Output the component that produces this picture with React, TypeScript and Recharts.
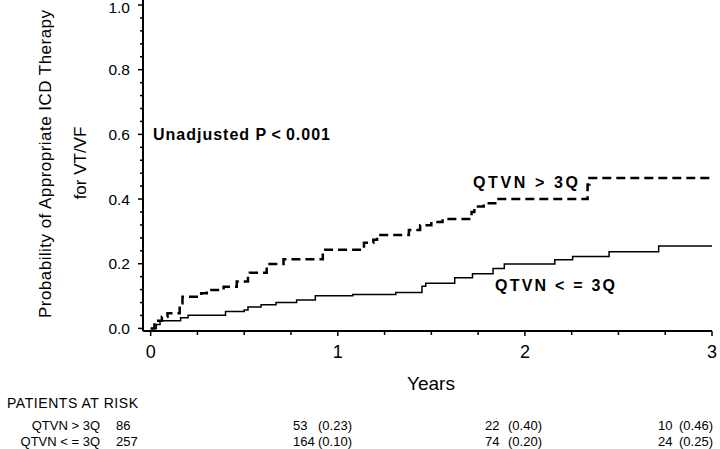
import { LineChart, Line, XAxis, YAxis } from "recharts";

// Kaplan-Meier step points (time in years, cumulative probability)
const highTimes = [0, 0.02, 0.04, 0.06, 0.09, 0.155, 0.17, 0.27, 0.3, 0.39, 0.46, 0.52, 0.53, 0.62, 0.71, 0.92, 1.14, 1.19, 1.21, 1.38, 1.44, 1.5, 1.56, 1.715, 1.73, 1.78, 1.85, 2.335, 2.345, 3.0];
const highProbs = [0, 0.012, 0.024, 0.036, 0.047, 0.078, 0.098, 0.109, 0.119, 0.129, 0.145, 0.165, 0.172, 0.199, 0.214, 0.243, 0.265, 0.274, 0.289, 0.304, 0.319, 0.329, 0.338, 0.36, 0.377, 0.387, 0.4, 0.445, 0.465, 0.465];

const lowTimes = [0, 0.03, 0.05, 0.16, 0.2, 0.4, 0.5, 0.52, 0.59, 0.67, 0.78, 0.88, 1.08, 1.31, 1.45, 1.47, 1.625, 1.72, 1.83, 1.89, 2.16, 2.255, 2.45, 2.715, 3.0];
const lowProbs = [0, 0.012, 0.024, 0.033, 0.041, 0.052, 0.057, 0.066, 0.073, 0.08, 0.088, 0.101, 0.105, 0.111, 0.13, 0.14, 0.157, 0.169, 0.185, 0.199, 0.212, 0.222, 0.237, 0.255, 0.255];

const xTicks = [0, 0.25, 0.5, 0.75, 1, 1.25, 1.5, 1.75, 2, 2.25, 2.5, 2.75, 3];
const yTicks = [0, 0.04, 0.08, 0.12, 0.16, 0.2, 0.24, 0.28, 0.32, 0.36, 0.4, 0.44, 0.48, 0.52, 0.56, 0.6, 0.64, 0.68, 0.72, 0.76, 0.8, 0.84, 0.88, 0.92, 0.96, 1.0];

// patients at risk table
const riskGroups = ["QTVN  >  3Q", "QTVN  < =  3Q"];
const riskHigh = [86, 53, 22, 10];
const riskHighProb = ["", "(0.23)", "(0.40)", "(0.46)"];
const riskLow = [257, 164, 74, 24];
const riskLowProb = ["", "(0.10)", "(0.20)", "(0.25)"];

const highData = highTimes.map((t, i) => ({ t, p: highProbs[i] }));
const lowData = lowTimes.map((t, i) => ({ t, p: lowProbs[i] }));

const FONT = "'Liberation Sans', Arial, sans-serif";

const isMajor = (v: number, step: number) => Math.abs(v / step - Math.round(v / step)) < 1e-6;

function XTick(props: any) {
    const { x, y, payload } = props;
    const major = isMajor(payload.value, 1);
    return (
        <g>
            <line x1={x} x2={x} y1={y} y2={y + (major ? 5 : 4)} stroke="#000" strokeWidth={1.5} />
            {major && (
                <text x={x} y={y + 27} textAnchor="middle" fontSize={18} fontFamily={FONT} fill="#000">
                    {payload.value}
                </text>
            )}
        </g>
    );
}

function YTick(props: any) {
    const { x, y, payload } = props;
    const major = isMajor(payload.value, 0.2);
    return (
        <g>
            <line x1={x} x2={x - (major ? 5 : 3)} y1={y} y2={y} stroke="#000" strokeWidth={1.5} />
            {major && (
                <text x={x - 13} y={Math.max(y + 5.5, 13)} textAnchor="end" fontSize={15.5} fontFamily={FONT} fill="#000">
                    {payload.value.toFixed(1)}
                </text>
            )}
        </g>
    );
}

export default function App() {
    const countX = [116, 293, 485, 658];
    const probX = [0, 318, 508, 679];
    return (
        <div style={{ position: "absolute", left: 0, top: 0, width: 720, height: 449, background: "#fff" }}>
            <LineChart width={720} height={449} margin={{ top: 0, right: 8, bottom: 88, left: 0 }}>
                <XAxis
                    type="number"
                    dataKey="t"
                    domain={[-0.041, 3]}
                    ticks={xTicks}
                    tick={<XTick />}
                    tickLine={false}
                    tickSize={0}
                    tickMargin={0}
                    height={30}
                    axisLine={{ stroke: "#000", strokeWidth: 2 }}
                    interval={0}
                />
                <YAxis
                    type="number"
                    dataKey="p"
                    domain={[-0.008, 1.0155]}
                    ticks={yTicks}
                    tick={<YTick />}
                    tickLine={false}
                    tickSize={0}
                    tickMargin={0}
                    width={143}
                    axisLine={{ stroke: "#000", strokeWidth: 2 }}
                    interval={0}
                />
                <Line
                    data={lowData}
                    dataKey="p"
                    type="stepAfter"
                    stroke="#000"
                    strokeWidth={1.5}
                    dot={false}
                    isAnimationActive={false}
                />
                <Line
                    data={highData}
                    dataKey="p"
                    type="stepAfter"
                    stroke="#000"
                    strokeWidth={2.5}
                    strokeDasharray="9 5"
                    dot={false}
                    isAnimationActive={false}
                />
            </LineChart>
            <svg
                width={720}
                height={449}
                style={{ position: "absolute", left: 0, top: 0, pointerEvents: "none" }}
                fontFamily={FONT}
            >
                <text transform="translate(51,164) rotate(-90)" textAnchor="middle" fontSize={17} textLength={308} lengthAdjust="spacing">
                    Probability of Appropriate ICD Therapy
                </text>
                <text transform="translate(86,163) rotate(-90)" textAnchor="middle" fontSize={17}>
                    for VT/VF
                </text>
                <text x={153} y={140} fontSize={16} fontWeight="bold" textLength={177} lengthAdjust="spacing">
                    Unadjusted P{"\u2009"}&lt;{"\u2009"}0.001
                </text>
                <text x={473} y={188} fontSize={16} fontWeight="bold" textLength={105} lengthAdjust="spacing">
                    QTVN &gt; 3Q
                </text>
                <text x={495} y={291} fontSize={16} fontWeight="bold" textLength={120} lengthAdjust="spacing">
                    QTVN &lt; = 3Q
                </text>
                <text x={431} y={390} textAnchor="middle" fontSize={19}>
                    Years
                </text>
                <text x={7} y={408} fontSize={14} textLength={131} lengthAdjust="spacing">
                    PATIENTS AT RISK
                </text>
                {[riskHigh, riskLow].map((row, r) => {
                    const probs = r === 0 ? riskHighProb : riskLowProb;
                    const y = r === 0 ? 430 : 446;
                    return (
                        <g key={r} fontSize={13} style={{ whiteSpace: "pre" }}>
                            <text x={100} y={y} textAnchor="end">
                                {riskGroups[r]}
                            </text>
                            {row.map((n, i) => (
                                <text key={"n" + i} x={countX[i]} y={y}>
                                    {n}
                                </text>
                            ))}
                            {probs.map((s, i) =>
                                s ? (
                                    <text key={"p" + i} x={probX[i]} y={y}>
                                        {s}
                                    </text>
                                ) : null
                            )}
                        </g>
                    );
                })}
            </svg>
        </div>
    );
}
